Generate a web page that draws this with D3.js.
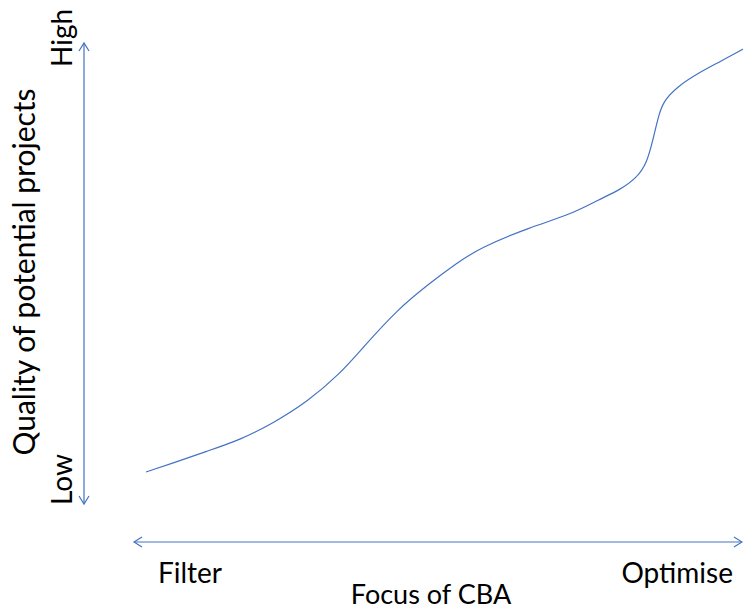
<!DOCTYPE html>
<html>
<head>
<meta charset="utf-8">
<script src="https://cdn.jsdelivr.net/npm/d3@7"></script>
<style>
  html, body { margin: 0; padding: 0; background: #fff; }
  svg { display: block; }
  text { font-family: Lato, "Open Sans", sans-serif; fill: #000; }
</style>
</head>
<body>
<script>
// Data (conceptual curve: focus of CBA 0..100 vs quality 0..100)
const focusValues   = [0, 4.5, 10.2, 15.7, 21.3, 27.0, 32.5, 36.3, 42.0, 47.6, 52.1, 55.9, 64.3, 71.0, 76.0, 79.4, 82.2, 83.9, 84.9, 85.8, 86.6, 88.9, 92.8, 96.1, 100];
const qualityValues = [0, 2.1, 4.9, 7.5, 11.5, 16.5, 23.1, 29.2, 38.1, 44.5, 49.2, 52.7, 57.6, 60.5, 64.2, 66.4, 69.2, 72.7, 78.1, 83.5, 87.1, 90.6, 94.1, 96.5, 99.5];
const xEndLabels = ["Filter", "Optimise"];
const yEndLabels = ["Low", "High"];
const xTitle = "Focus of CBA";
const yTitle = "Quality of potential projects";

const W = 743, H = 611;
const blue = "#4472C4";

const svg = d3.select("body").append("svg").attr("width", W).attr("height", H);

const x = d3.scaleLinear().domain([0, 100]).range([146, 743]);
const y = d3.scaleLinear().domain([0, 100]).range([472, 47]);

// Double-headed arrows
const vx = 84, vTop = 43, vBot = 504;
const hy = 542, hLeft = 134, hRight = 742;
const ah = 8, aw = 5;

const arrows = svg.append("g").attr("fill", "none").attr("stroke", blue).attr("stroke-width", 1.2);
arrows.append("line").attr("x1", vx).attr("x2", vx).attr("y1", vTop).attr("y2", vBot);
arrows.append("path").attr("d", `M${vx - aw},${vTop + ah}L${vx},${vTop}L${vx + aw},${vTop + ah}`);
arrows.append("path").attr("d", `M${vx - aw},${vBot - ah}L${vx},${vBot}L${vx + aw},${vBot - ah}`);
arrows.append("line").attr("x1", hLeft).attr("x2", hRight).attr("y1", hy).attr("y2", hy);
arrows.append("path").attr("d", `M${hLeft + ah},${hy - aw}L${hLeft},${hy}L${hLeft + ah},${hy + aw}`);
arrows.append("path").attr("d", `M${hRight - ah},${hy - aw}L${hRight},${hy}L${hRight - ah},${hy + aw}`);

// Curve
const pts = focusValues.map((f, i) => [f, qualityValues[i]]);
const line = d3.line().x(d => x(d[0])).y(d => y(d[1])).curve(d3.curveBasis);
svg.append("path").datum(pts).attr("d", line)
  .attr("fill", "none").attr("stroke", blue).attr("stroke-width", 1.2);

// Labels
const fs = 28;
svg.append("text").attr("x", 158).attr("y", 583).attr("font-size", fs).text(xEndLabels[0]);
svg.append("text").attr("x", 733).attr("y", 583).attr("text-anchor", "end").attr("font-size", fs).text(xEndLabels[1]);
svg.append("text").attr("x", 431).attr("y", 604).attr("text-anchor", "middle").attr("font-size", 27).text(xTitle);

svg.append("text").attr("transform", "translate(72,505) rotate(-90)").attr("font-size", fs).text(yEndLabels[0]);
svg.append("text").attr("transform", "translate(72,67) rotate(-90)").attr("font-size", fs).text(yEndLabels[1]);
svg.append("text").attr("transform", "translate(35,272) rotate(-90)").attr("text-anchor", "middle").attr("font-size", 30).text(yTitle);
</script>
</body>
</html>
